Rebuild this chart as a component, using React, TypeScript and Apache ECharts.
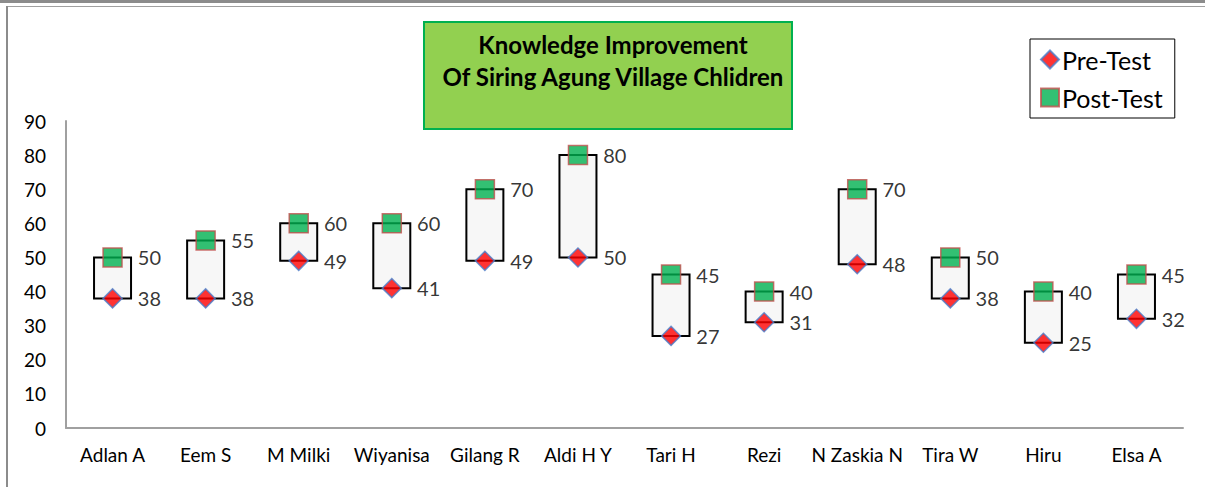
import React, { useEffect, useRef } from "react";
import * as echarts from "echarts";

const categories = ["Adlan A", "Eem S", "M Milki", "Wiyanisa", "Gilang R", "Aldi H Y", "Tari H", "Rezi", "N Zaskia N", "Tira W", "Hiru", "Elsa A"];
const preTest = [38, 38, 49, 41, 49, 50, 27, 31, 48, 38, 25, 32];
const postTest = [50, 55, 60, 60, 70, 80, 45, 40, 70, 50, 40, 45];
const yTicks = { min: 0, max: 90, interval: 10 };

const FONT = "Lato, 'Open Sans', sans-serif";

export default function App() {
  const ref = useRef<HTMLDivElement>(null);
  useEffect(() => {
    if (!ref.current) return;
    const chart = echarts.init(ref.current, null, { renderer: "svg" });
    const boxData = categories.map((_, i) => [i, preTest[i], postTest[i]]);
    chart.setOption({
      animation: false,
      textStyle: { fontFamily: FONT },
      title: {
        text: "Knowledge Improvement\nOf Siring Agung Village Chlidren",
        left: 608,
        top: 23,
        textAlign: "center",
        textStyle: { fontFamily: FONT, fontSize: 24, fontWeight: "bold", color: "#000", lineHeight: 32 },
      },
      legend: {
        orient: "vertical",
        left: 1030,
        top: 39,
        width: 150,
        padding: [8, 12, 8, 10],
        itemGap: 13,
        itemWidth: 18,
        itemHeight: 18,
        borderColor: "#000",
        borderWidth: 1,
        backgroundColor: "#fff",
        textStyle: { fontFamily: FONT, fontSize: 25, color: "#000", padding: [0, 0, 0, -2] },
        data: ["Pre-Test", "Post-Test"],
      },
      graphic: [
        { type: "rect", z: 0, shape: { x: 0, y: 0, width: 1205, height: 3 }, style: { fill: "#8c8c8c" } },
        { type: "line", z: 0, shape: { x1: 6, y1: 6.5, x2: 1205, y2: 6.5 }, style: { stroke: "#a0a0a0", lineWidth: 1 } },
        { type: "line", z: 0, shape: { x1: 7, y1: 6, x2: 7, y2: 487 }, style: { stroke: "#8c8c8c", lineWidth: 2 } },
        {
          type: "rect",
          z: 0,
          shape: { x: 424, y: 22, width: 368, height: 107 },
          style: { fill: "#92D050", stroke: "#00B050", lineWidth: 2 },
        },
      ],
      grid: { left: 66, right: 22, top: 121, bottom: 59, containLabel: false },
      xAxis: {
        type: "category",
        data: categories,
        boundaryGap: true,
        axisLine: { lineStyle: { color: "#a0a0a0", width: 2 } },
        axisTick: { show: false },
        axisLabel: { color: "#000", fontSize: 19, margin: 17, fontFamily: FONT, interval: 0 },
      },
      yAxis: {
        type: "value",
        min: yTicks.min,
        max: yTicks.max,
        interval: yTicks.interval,
        splitLine: { show: false },
        axisLine: { show: true, lineStyle: { color: "#a0a0a0", width: 2 } },
        axisTick: { show: false },
        axisLabel: { color: "#000", fontSize: 19, margin: 20, fontFamily: FONT },
      },
      series: [
        {
          type: "custom",
          name: "range",
          z: 1,
          data: boxData,
          encode: { x: 0, y: [1, 2] },
          renderItem: (params: any, api: any) => {
            const idx = api.value(0);
            const lo = api.coord([idx, api.value(1)]);
            const hi = api.coord([idx, api.value(2)]);
            const w = 37;
            return {
              type: "rect",
              shape: { x: lo[0] - w / 2, y: hi[1], width: w, height: lo[1] - hi[1] },
              style: { fill: "#f7f7f7", stroke: "#000", lineWidth: 2 },
            };
          },
        },
        {
          type: "scatter",
          name: "Pre-Test",
          z: 3,
          symbol: "diamond",
          symbolSize: 19,
          data: preTest,
          itemStyle: { color: "#FF0000", borderColor: "#4A7CC8", borderWidth: 1.5 },
          label: { show: true, position: "right", distance: 15, color: "#000", fontSize: 20, fontFamily: FONT },
        },
        {
          type: "scatter",
          name: "Post-Test",
          z: 3,
          symbol: "rect",
          symbolSize: 19,
          data: postTest,
          itemStyle: { color: "#00B050", borderColor: "#C0504D", borderWidth: 1.5 },
          label: { show: true, position: "right", distance: 15, color: "#000", fontSize: 20, fontFamily: FONT },
        },
      ],
    });
    return () => chart.dispose();
  }, []);
  return <div ref={ref} style={{ position: "absolute", left: 0, top: 0, width: 1205, height: 487 }} />;
}
